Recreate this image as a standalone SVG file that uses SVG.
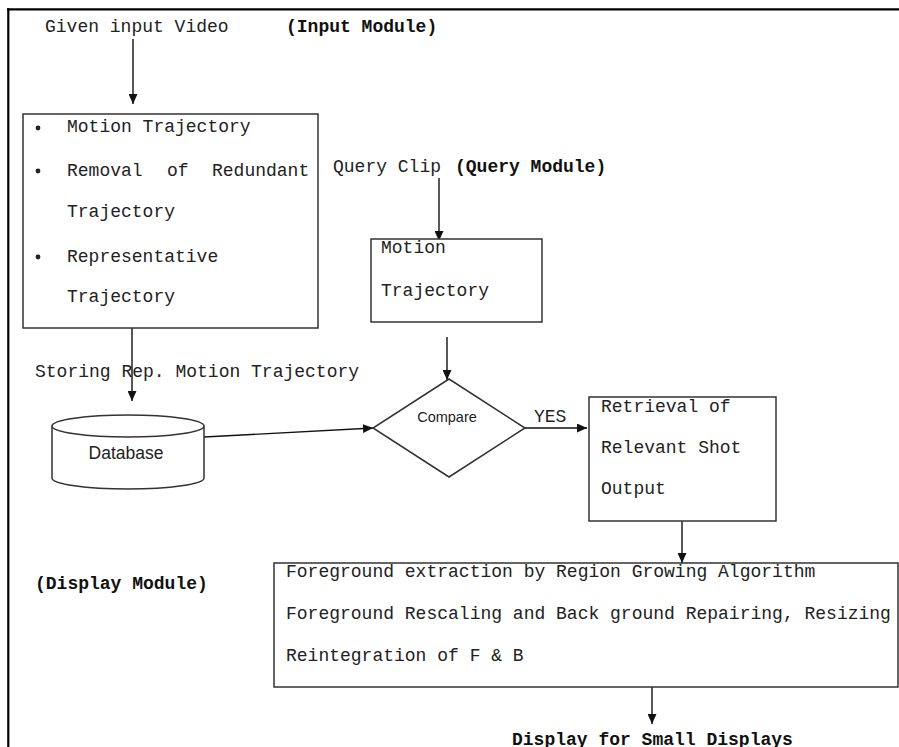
<svg xmlns="http://www.w3.org/2000/svg" width="899" height="747" viewBox="0 0 899 747">
<style>
.m{font-family:"Liberation Mono","Courier New",monospace;font-size:18px;fill:#222}
.b{font-weight:bold;fill:#111}
.s{font-family:"Liberation Sans",Arial,sans-serif;fill:#222}
.box{fill:#fff;stroke:#333;stroke-width:1.5}
.ln{stroke:#111;stroke-width:1.4;fill:none}
</style>
<defs>
<marker id="ah" markerWidth="10" markerHeight="9" refX="10" refY="4.5" orient="auto" markerUnits="userSpaceOnUse">
<path d="M0,0 L10,4.5 L0,9 z" fill="#111"/>
</marker>
</defs>
<rect width="899" height="747" fill="#fff"/>
<g id="frame">
<line x1="7" y1="9.3" x2="899" y2="9.3" stroke="#000" stroke-width="2.2"/>
<line x1="8.3" y1="8.2" x2="8.3" y2="747" stroke="#000" stroke-width="2.2"/>
</g>
<g id="labels">
<text class="m" x="45" y="32">Given input Video</text>
<text class="m b" x="286" y="32">(Input Module)</text>
<text class="m" x="333" y="172">Query Clip</text>
<text class="m b" x="455" y="172">(Query Module)</text>
<text class="m" x="35" y="377">Storing Rep. Motion Trajectory</text>
<text class="m" x="534" y="422">YES</text>
<text class="m b" x="35" y="589">(Display Module)</text>
<text class="m b" x="512" y="745">Display for Small Displays</text>
</g>
<g id="connectors">
<line class="ln" x1="133" y1="39" x2="133" y2="104" marker-end="url(#ah)"/>
<line class="ln" x1="132" y1="328" x2="132" y2="401" marker-end="url(#ah)"/>
<line class="ln" x1="439" y1="178" x2="439" y2="241" marker-end="url(#ah)"/>
<line class="ln" x1="447" y1="337" x2="447" y2="380" marker-end="url(#ah)"/>
<line class="ln" x1="204" y1="437" x2="373" y2="428" marker-end="url(#ah)"/>
<line class="ln" x1="525" y1="428" x2="587" y2="428" marker-end="url(#ah)"/>
<line class="ln" x1="682" y1="521" x2="682" y2="563" marker-end="url(#ah)"/>
<line class="ln" x1="652" y1="687" x2="652" y2="724" marker-end="url(#ah)"/>
</g>
<g id="input-box">
<rect class="box" x="23" y="114" width="295" height="214"/>
<circle cx="38" cy="128" r="2.4" fill="#222"/>
<circle cx="38" cy="171" r="2.4" fill="#222"/>
<circle cx="38" cy="257" r="2.4" fill="#222"/>
<text class="m" x="67" y="132">Motion Trajectory</text>
<text class="m" x="67" y="176">Removal</text>
<text class="m" x="167" y="176">of</text>
<text class="m" x="212" y="176">Redundant</text>
<text class="m" x="67" y="217">Trajectory</text>
<text class="m" x="67" y="262">Representative</text>
<text class="m" x="67" y="302">Trajectory</text>
</g>
<g id="query-box">
<rect class="box" x="371" y="239" width="171" height="83"/>
<text class="m" x="381" y="253">Motion</text>
<text class="m" x="381" y="296">Trajectory</text>
</g>
<g id="database">
<path d="M52,426 V478 A76,11 0 0 0 204,478 V426" fill="#fff" stroke="#333" stroke-width="1.5"/>
<ellipse cx="128" cy="426" rx="76" ry="11" fill="#fff" stroke="#333" stroke-width="1.5"/>
<text class="s" x="126" y="459" font-size="17.5" text-anchor="middle">Database</text>
</g>
<g id="compare">
<polygon points="449,379 525,428 449,477 373,428" fill="#fff" stroke="#333" stroke-width="1.5"/>
<text class="s" x="447" y="422" font-size="14.5" text-anchor="middle">Compare</text>
</g>
<g id="retrieval-box">
<rect class="box" x="589" y="397" width="187" height="124"/>
<text class="m" x="601" y="412">Retrieval of</text>
<text class="m" x="601" y="453">Relevant Shot</text>
<text class="m" x="601" y="494">Output</text>
</g>
<g id="display-box">
<rect class="box" x="274" y="563" width="624" height="124"/>
<text class="m" x="286" y="577">Foreground extraction by Region Growing Algorithm</text>
<text class="m" x="286" y="619">Foreground Rescaling and Back ground Repairing, Resizing</text>
<text class="m" x="286" y="661">Reintegration of F &amp; B</text>
</g>
</svg>
